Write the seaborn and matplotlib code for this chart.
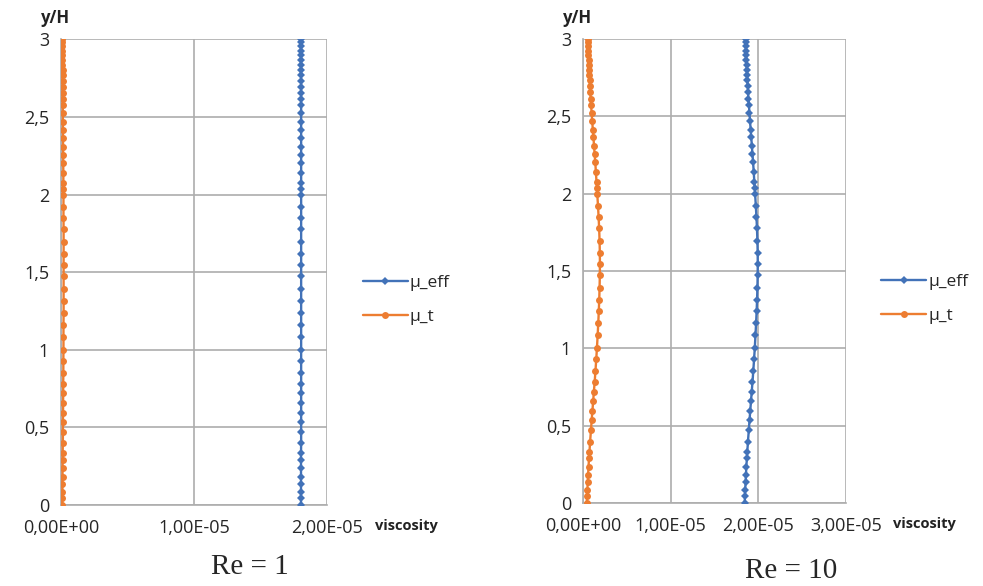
import numpy as np
import pandas as pd
import matplotlib
matplotlib.use("Agg")
import matplotlib.pyplot as plt
import seaborn as sns
from matplotlib.ticker import FixedLocator, FuncFormatter

# y/H positions of the mesh points (same for both cases)
y_h = [0.0, 0.043, 0.086, 0.135, 0.182, 0.236, 0.290, 0.333, 0.397, 0.472,
       0.536, 0.594, 0.659, 0.719, 0.783, 0.854, 0.929, 1.002, 1.084, 1.163,
       1.238, 1.313, 1.391, 1.476, 1.545, 1.616, 1.695, 1.775, 1.850, 1.920,
       1.996, 2.034, 2.075, 2.139, 2.202, 2.253, 2.307, 2.363, 2.414, 2.468,
       2.524, 2.575, 2.614, 2.655, 2.693, 2.732, 2.768, 2.801, 2.833, 2.865,
       2.897, 2.925, 2.955, 2.983, 3.0]

# Re = 1 (values in 1e-5)
mu_eff_re1 = [1.805, 1.805, 1.805, 1.805, 1.805, 1.805, 1.805, 1.805, 1.806, 1.806,
              1.806, 1.806, 1.806, 1.806, 1.806, 1.806, 1.806, 1.806, 1.806, 1.806,
              1.806, 1.806, 1.806, 1.806, 1.806, 1.806, 1.806, 1.806, 1.806, 1.806,
              1.806, 1.806, 1.806, 1.806, 1.806, 1.806, 1.806, 1.806, 1.806, 1.806,
              1.806, 1.806, 1.806, 1.806, 1.806, 1.806, 1.805, 1.805, 1.805, 1.805,
              1.805, 1.805, 1.805, 1.805, 1.805]
mu_t_re1 = [0.010, 0.010, 0.011, 0.011, 0.012, 0.012, 0.013, 0.013, 0.014, 0.015,
            0.015, 0.016, 0.016, 0.017, 0.017, 0.018, 0.018, 0.019, 0.019, 0.019,
            0.020, 0.020, 0.020, 0.020, 0.020, 0.020, 0.020, 0.020, 0.019, 0.019,
            0.019, 0.018, 0.018, 0.018, 0.017, 0.017, 0.016, 0.016, 0.015, 0.015,
            0.014, 0.014, 0.013, 0.013, 0.013, 0.012, 0.012, 0.012, 0.011, 0.011,
            0.011, 0.011, 0.010, 0.010, 0.010]

# Re = 10 (values in 1e-5)
mu_eff_re10 = [1.845, 1.848, 1.851, 1.855, 1.859, 1.864, 1.870, 1.875, 1.882, 1.892,
               1.900, 1.908, 1.917, 1.925, 1.934, 1.943, 1.952, 1.960, 1.968, 1.975,
               1.981, 1.986, 1.990, 1.993, 1.994, 1.993, 1.990, 1.985, 1.979, 1.972,
               1.964, 1.960, 1.955, 1.948, 1.941, 1.934, 1.927, 1.920, 1.913, 1.906,
               1.899, 1.893, 1.888, 1.884, 1.880, 1.876, 1.873, 1.870, 1.867, 1.864,
               1.862, 1.860, 1.858, 1.857, 1.856]
mu_t_re10 = [0.045, 0.048, 0.051, 0.055, 0.059, 0.064, 0.070, 0.075, 0.082, 0.092,
             0.100, 0.108, 0.117, 0.125, 0.134, 0.143, 0.152, 0.160, 0.168, 0.175,
             0.181, 0.186, 0.190, 0.193, 0.194, 0.193, 0.190, 0.185, 0.179, 0.172,
             0.164, 0.160, 0.155, 0.148, 0.141, 0.134, 0.127, 0.120, 0.113, 0.106,
             0.099, 0.093, 0.088, 0.084, 0.080, 0.076, 0.073, 0.070, 0.067, 0.064,
             0.062, 0.060, 0.058, 0.057, 0.056]

x_ticks_re1 = [0.0, 1e-5, 2e-5]
x_ticks_re10 = [0.0, 1e-5, 2e-5, 3e-5]
y_ticks = [0, 0.5, 1, 1.5, 2, 2.5, 3]

BLUE = "#4272B8"
ORANGE = "#ED7D31"
GRID = "#ADADAD"

sns.set_style("white")
plt.rcParams['font.family'] = ['Open Sans', 'DejaVu Sans']

fig = plt.figure(figsize=(9.83, 5.86), dpi=100)
ax1 = fig.add_axes([0.062, 0.138, 0.2706, 0.795])
ax2 = fig.add_axes([0.593, 0.1416, 0.2676, 0.792])


def sci_comma(v, pos):
    s = "%.2E" % v
    return s.replace(".", ",")


def dec_comma(v, pos):
    s = ("%g" % v)
    return s.replace(".", ",")


def draw(ax, mu_eff, mu_t, xticks, label, label_x, label_y):
    df = pd.DataFrame({
        "y": y_h,
        "mu_eff": np.array(mu_eff) * 1e-5,
        "mu_t": np.array(mu_t) * 1e-5,
    })
    sns.lineplot(data=df, x="mu_eff", y="y", sort=False, estimator=None, ax=ax,
                 color=BLUE, lw=1.7, marker="D", markersize=4,
                 markeredgewidth=0, label="\u03bc_eff", zorder=3)
    sns.lineplot(data=df, x="mu_t", y="y", sort=False, estimator=None, ax=ax,
                 color=ORANGE, lw=1.7, marker="o", markersize=5,
                 markeredgewidth=0, label="\u03bc_t", zorder=3)
    ax.set_xlim(xticks[0], xticks[-1])
    ax.set_ylim(0, 3)
    ax.xaxis.set_major_locator(FixedLocator(xticks))
    ax.yaxis.set_major_locator(FixedLocator(y_ticks))
    ax.xaxis.set_major_formatter(FuncFormatter(sci_comma))
    ax.yaxis.set_major_formatter(FuncFormatter(dec_comma))
    ax.grid(True, color=GRID, lw=1.2, zorder=0)
    ax.set_axisbelow(True)
    for s in ["top", "right"]:
        ax.spines[s].set_visible(False)
    for s in ["left", "bottom"]:
        ax.spines[s].set_color(GRID)
        ax.spines[s].set_linewidth(1.2)
    ax.tick_params(axis="both", direction="out", length=5, width=1.2,
                   color=GRID, labelsize=13, labelcolor="#262626")
    ax.tick_params(axis="x", pad=5)
    ax.set_xlabel("")
    ax.set_ylabel("")
    ax.text(-0.022, 1.045, "y/H", transform=ax.transAxes, fontsize=12,
            fontweight="bold", ha="center", va="center", color="#222222")
    ax.text(1.18, -0.045, "viscosity", transform=ax.transAxes, fontsize=10.5,
            fontweight="bold", ha="left", va="center", color="#222222")
    leg = ax.legend(loc="center left", bbox_to_anchor=(1.075, 0.44), frameon=False,
                    fontsize=12.5, handlelength=2.6, labelspacing=1.05,
                    handletextpad=0.1)
    for t in leg.get_texts():
        t.set_color("#262626")
    fig.text(label_x, label_y, label, fontsize=21, ha="center", va="center",
             family="Liberation Serif")


draw(ax1, mu_eff_re1, mu_t_re1, x_ticks_re1, "Re = 1", 0.254, 0.032)
draw(ax2, mu_eff_re10, mu_t_re10, x_ticks_re10, "Re = 10", 0.805, 0.025)

fig.savefig("out.png", dpi=100)
